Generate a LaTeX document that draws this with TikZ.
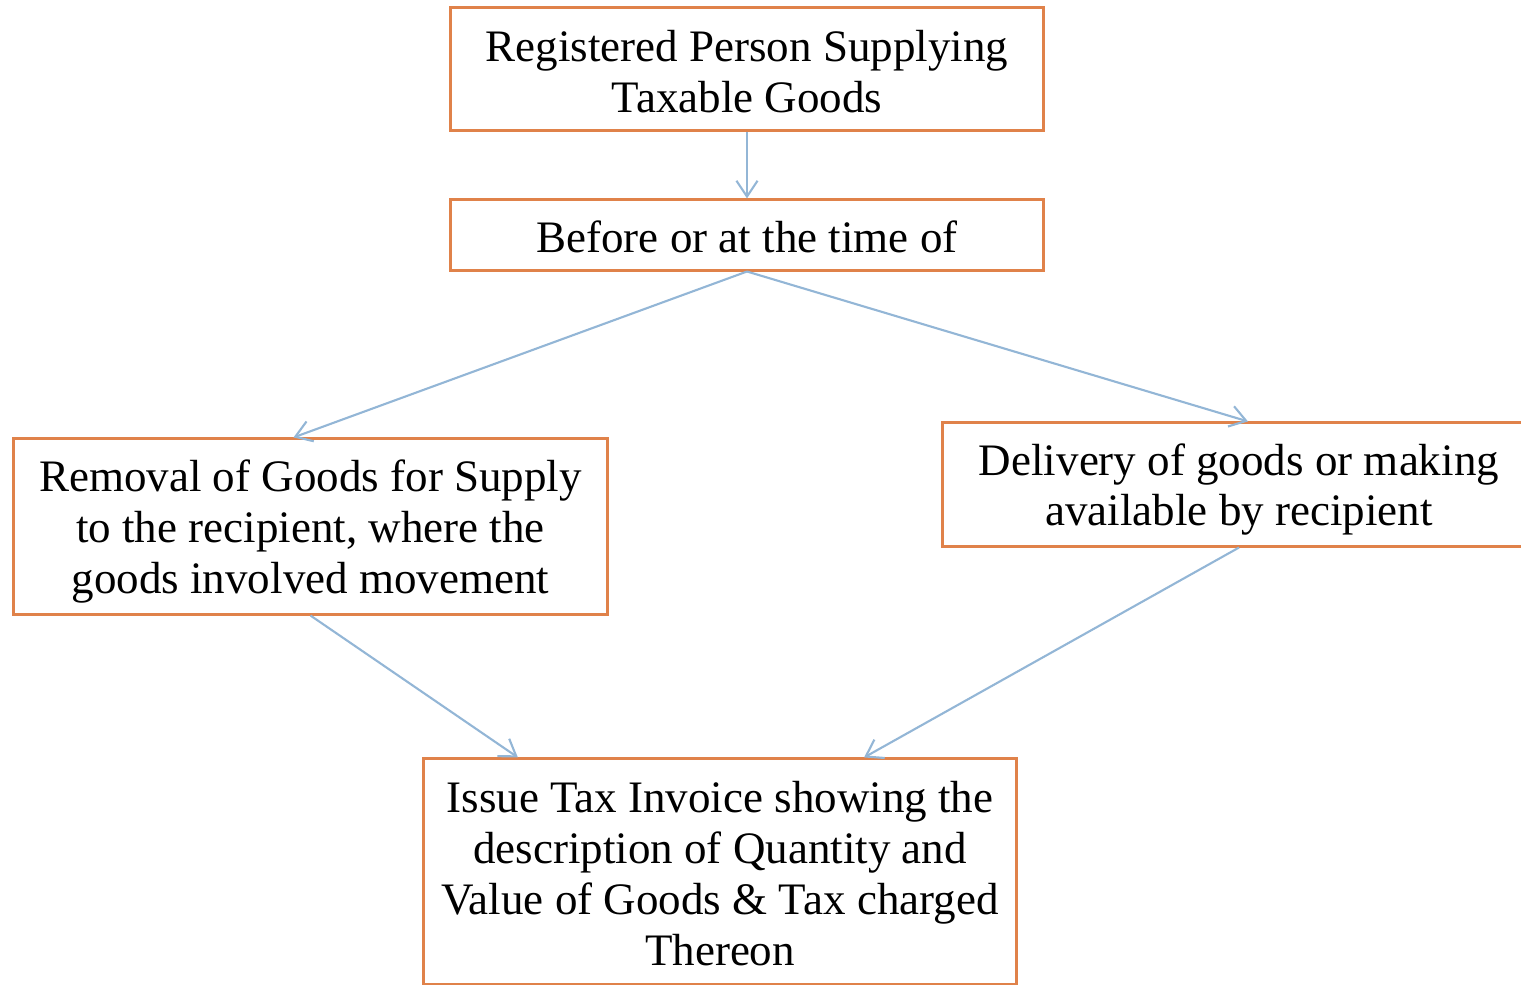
\documentclass[tikz,border=0pt]{standalone}
\usepackage{fontspec}
\setmainfont{Liberation Serif}
\usetikzlibrary{arrows.meta,calc}
\definecolor{boxorange}{HTML}{E0824A}
\definecolor{linkblue}{HTML}{93B6D6}
\newcommand{\lowertext}[2]{\raisebox{-#1}[\height][\depth]{\parbox{5.9cm}{\centering #2}}}
\begin{document}
\begin{tikzpicture}[x=0.01cm,y=-0.01cm,
  box/.style={draw=boxorange,line width=0.85pt,minimum width=5.92cm,align=center,inner sep=0pt,
    font=\fontsize{12.8pt}{14.45pt}\selectfont},
  link/.style={draw=linkblue,line width=0.6pt,-{Straight Barb[length=4.5pt,width=6pt,line width=0.6pt]}}]
\useasboundingbox (0,0) rectangle (1521,985);
\begin{scope}
\clip (0,0) rectangle (1521,985);
\node[box,minimum height=1.22cm] (b1) at (747,69) {\lowertext{0.03cm}{Registered Person Supplying\\Taxable Goods}};
\node[box,minimum height=0.70cm] (b2) at (747,235) {\lowertext{0.02cm}{Before or at the time of}};
\node[box,minimum width=5.93cm,minimum height=1.75cm] (b3) at (310.5,526.5) {\lowertext{0.05cm}{Removal of Goods for Supply\\to the recipient, where the\\goods involved movement}};
\node[box,minimum height=1.23cm] (b4) at (1239,484.5) {\lowertext{0.05cm}{Delivery of goods or making\\available by recipient}};
\node[box,minimum height=2.25cm] (b5) at (720,871.5) {\lowertext{0.02cm}{Issue Tax Invoice showing the\\description of Quantity and\\Value of Goods \& Tax charged\\Thereon}};
\end{scope}
\draw[link] (b1.south) -- (b2.north);
\draw[link] (b2.south) -- ([xshift=-0.17cm]b3.north);
\draw[link] (b2.south) -- ([xshift=0.09cm]b4.north);
\draw[link] (b3.south) -- ([xshift=-2.02cm]b5.north);
\draw[link] (b4.south) -- ([xshift=1.44cm]b5.north);
\end{tikzpicture}
\end{document}
